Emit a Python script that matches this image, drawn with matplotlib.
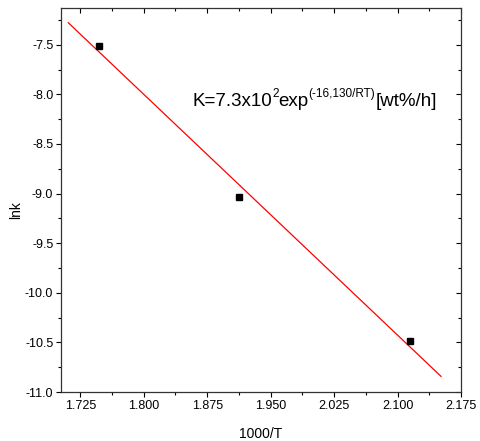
import numpy as np
import matplotlib
matplotlib.use('Agg')
import matplotlib.pyplot as plt
from matplotlib.ticker import MultipleLocator, FormatStrFormatter
from matplotlib.transforms import offset_copy

# data
inv_T = [1.7474, 1.9128, 2.1144]   # 1000/T
ln_k = [-7.51, -9.03, -10.49]
fit_range = [1.7108, 2.1514]

x_ticks = [1.725, 1.800, 1.875, 1.950, 2.025, 2.100, 2.175]
y_ticks = [-11.0, -10.5, -10.0, -9.5, -9.0, -8.5, -8.0, -7.5]

# equation label: (text, is superscript)
eq_parts = [('K=7.3x10', False), ('2', True), ('exp', False),
            ('(-16,130/RT)', True), ('[wt%/h]', False)]

plt.rcParams['font.family'] = ['Liberation Sans', 'DejaVu Sans']
plt.rcParams['axes.unicode_minus'] = False

fig = plt.figure(figsize=(4.81, 4.41), dpi=100)
ax = fig.add_axes([0.1268, 0.1111, 0.8316, 0.8708])

# linear fit through the points
slope, icpt = np.polyfit(inv_T, ln_k, 1)
xf = np.array(fit_range)
ax.plot(xf, slope * xf + icpt, color='red', lw=0.9)
ax.plot(inv_T, ln_k, 's', color='black', markersize=5)

ax.set_xlim(1.7022, 2.175)
ax.set_ylim(-11.0, -7.13)
ax.set_xticks(x_ticks)
ax.set_yticks(y_ticks)
ax.xaxis.set_major_formatter(FormatStrFormatter('%.3f'))
ax.yaxis.set_major_formatter(FormatStrFormatter('%.1f'))
ax.xaxis.set_minor_locator(MultipleLocator(0.0375))
ax.yaxis.set_minor_locator(MultipleLocator(0.25))

ax.tick_params(which='both', direction='out', labelsize=9, width=0.8)
ax.tick_params(which='major', length=3.5, pad=2)
ax.tick_params(which='minor', length=2)
ax.tick_params(which='both', top=True, right=True)
# ticks on top/right point inward
for t in ax.xaxis.get_ticklines(minor=False)[1::2] + ax.xaxis.get_ticklines(minor=True)[1::2]:
    t.set_marker(3)
for t in ax.yaxis.get_ticklines(minor=False)[1::2] + ax.yaxis.get_ticklines(minor=True)[1::2]:
    t.set_marker(0)

for s in ax.spines.values():
    s.set_linewidth(0.9)
    s.set_color('#333333')

ax.set_xlabel('1000/T', fontsize=10)
ax.set_ylabel('lnk', fontsize=10)
ax.xaxis.set_label_coords(0.5, -0.09)
ax.yaxis.set_label_coords(-0.095, 0.474)

# equation, drawn piece by piece so superscripts sit right
fig.canvas.draw()
renderer = fig.canvas.get_renderer()
dx = 0.0
for txt, sup in eq_parts:
    size = 8.5 if sup else 13.5
    dy = 6.5 if sup else 0
    tr = offset_copy(ax.transData, fig=fig, x=dx, y=dy, units='points')
    t = ax.text(1.8573, -8.12, txt, fontsize=size, va='baseline', ha='left', transform=tr)
    dx += t.get_window_extent(renderer).width * 72.0 / fig.dpi

fig.savefig('out.png', dpi=100)
